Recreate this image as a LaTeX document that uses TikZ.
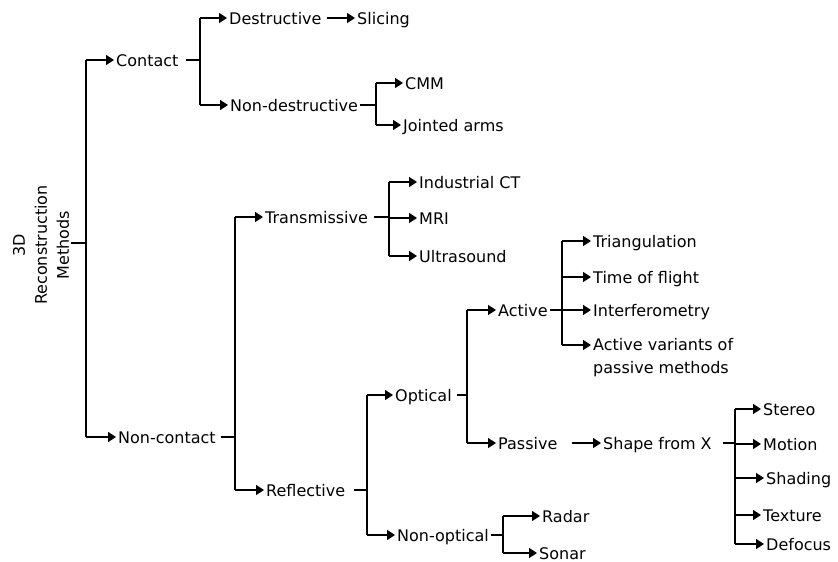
\documentclass[tikz,border=0pt]{standalone}
\usepackage{fontspec}
\setmainfont{DejaVu Sans}
\usetikzlibrary{arrows.meta}
\begin{document}
\begin{tikzpicture}[x=1pt,y=-1pt,
  lbl/.style={anchor=west,inner sep=2pt,text height=12pt,text depth=0pt,font=\fontsize{16}{19}\selectfont},
  conn/.style={line width=1.5pt},
  arr/.style={conn,-{Triangle[length=8pt,width=10pt]}}]
\useasboundingbox[fill=white] (0,0) rectangle (838,562);

% root
\node[rotate=90,align=center,inner sep=2pt,font=\fontsize{16}{22}\selectfont] (root) at (41,245) {3D\\Reconstruction\\Methods};
% level 1
\node[lbl] (contact) at (114,60) {Contact};
\node[lbl] (noncontact) at (116,437) {Non-contact};
% contact subtree
\node[lbl] (dest) at (227,18) {Destructive};
\node[lbl] (slicing) at (355,18) {Slicing};
\node[lbl] (nondest) at (228,105) {Non-destructive};
\node[lbl] (cmm) at (403,83) {CMM};
\node[lbl] (jointed) at (401,125) {Jointed arms};
% non-contact subtree
\node[lbl] (trans) at (263,217) {Transmissive};
\node[lbl] (ict) at (417,182) {Industrial CT};
\node[lbl] (mri) at (417,218) {MRI};
\node[lbl] (ultra) at (417,256) {Ultrasound};
\node[lbl] (refl) at (264,490) {Reflective};
\node[lbl] (optical) at (393,395) {Optical};
\node[lbl] (active) at (496,310) {Active};
\node[lbl] (tri) at (591,241) {Triangulation};
\node[lbl] (tof) at (591,277) {Time of flight};
\node[lbl] (interf) at (591,310) {Interferometry};
\node[anchor=north west,inner sep=2pt,align=left,font=\fontsize{16}{23}\selectfont] (actvar) at (591,336) {Active variants of\\passive methods};
\coordinate (avp) at ([yshift=-9pt]actvar.north west);
\node[lbl] (passive) at (496,443) {Passive};
\node[lbl] (sfx) at (601,443) {Shape from X};
\node[lbl] (stereo) at (761,409) {Stereo};
\node[lbl] (motion) at (761,444) {Motion};
\node[lbl] (shading) at (764,478) {Shading};
\node[lbl] (texture) at (761,515) {Texture};
\node[lbl] (defocus) at (764,544) {Defocus};
\node[lbl] (nonopt) at (395,535) {Non-optical};
\node[lbl] (radar) at (540,516) {Radar};
\node[lbl] (sonar) at (537,553) {Sonar};

% junctions
\coordinate (jr) at (86,243);
\coordinate (jc) at (200,60);
\coordinate (jnd) at (376,105);
\coordinate (jnc) at (235,437);
\coordinate (jt) at (389,217);
\coordinate (jrf) at (367,490);
\coordinate (jo) at (467,395);
\coordinate (ja) at (562,310);
\coordinate (js) at (735,443);
\coordinate (jno) at (503,535);

% root
\draw[conn] (root.south |- jr) -- (jr);
\draw[conn] (jr |- contact) -- (jr |- noncontact);
\draw[arr] (jr |- contact) -- (contact.west);
\draw[arr] (jr |- noncontact) -- (noncontact.west);
% contact
\draw[conn] ([xshift=5pt]contact.east) -- (jc);
\draw[conn] (jc |- dest) -- (jc |- nondest);
\draw[arr] (jc |- dest) -- (dest.west);
\draw[arr] (jc |- nondest) -- (nondest.west);
\draw[arr] ([xshift=3pt]dest.east) -- (slicing.west);
% non-destructive
\draw[conn] (nondest.east) -- (jnd);
\draw[conn] (jnd |- cmm) -- (jnd |- jointed);
\draw[arr] (jnd |- cmm) -- (cmm.west);
\draw[arr] (jnd |- jointed) -- (jointed.west);
% non-contact
\draw[conn] ([xshift=3pt]noncontact.east) -- (jnc);
\draw[conn] (jnc |- trans) -- (jnc |- refl);
\draw[arr] (jnc |- trans) -- (trans.west);
\draw[arr] (jnc |- refl) -- (refl.west);
% transmissive
\draw[conn] ([xshift=4pt]trans.east) -- (jt);
\draw[conn] (jt |- ict) -- (jt |- ultra);
\draw[arr] (jt |- ict) -- (ict.west);
\draw[arr] (jt |- mri) -- (mri.west);
\draw[arr] (jt |- ultra) -- (ultra.west);
% reflective
\draw[conn] ([xshift=7pt]refl.east) -- (jrf);
\draw[conn] (jrf |- optical) -- (jrf |- nonopt);
\draw[arr] (jrf |- optical) -- (optical.west);
\draw[arr] (jrf |- nonopt) -- (nonopt.west);
% optical
\draw[conn] ([xshift=3pt]optical.east) -- (jo);
\draw[conn] (jo |- active) -- (jo |- passive);
\draw[arr] (jo |- active) -- (active.west);
\draw[arr] (jo |- passive) -- (passive.west);
% active
\draw[conn] (active.east) -- (ja);
\draw[conn] (ja |- tri) -- (ja |- avp);
\draw[arr] (ja |- tri) -- (tri.west);
\draw[arr] (ja |- tof) -- (tof.west);
\draw[arr] (ja |- interf) -- (interf.west);
\draw[arr] (ja |- avp) -- (avp);
% passive
\draw[arr] ([xshift=12pt]passive.east) -- (sfx.west);
\draw[conn] ([xshift=9pt]sfx.east) -- (js);
\draw[conn] (js |- stereo) -- (js |- defocus);
\draw[arr] (js |- stereo) -- (stereo.west);
\draw[arr] (js |- motion) -- (motion.west);
\draw[arr] (js |- shading) -- (shading.west);
\draw[arr] (js |- texture) -- (texture.west);
\draw[arr] (js |- defocus) -- (defocus.west);
% non-optical
\draw[conn] (nonopt.east) -- (jno);
\draw[conn] (jno |- radar) -- (jno |- sonar);
\draw[arr] (jno |- radar) -- (radar.west);
\draw[arr] (jno |- sonar) -- (sonar.west);
\end{tikzpicture}
\end{document}
